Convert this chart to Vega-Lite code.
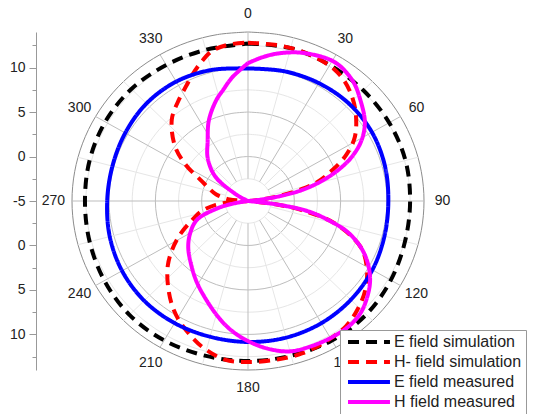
{
  "$schema": "https://vega.github.io/schema/vega-lite/v6.json",
  "width": 352,
  "height": 338,
  "autosize": "none",
  "padding": {"left": 72, "top": 32, "right": 113, "bottom": 44},
  "background": "white",
  "datasets": {
    "curves": [
      {"series": "E field simulation", "angle": 0, "r": 12.7},
      {"series": "E field simulation", "angle": 15, "r": 12.8},
      {"series": "E field simulation", "angle": 30, "r": 12.65},
      {"series": "E field simulation", "angle": 45, "r": 12.6},
      {"series": "E field simulation", "angle": 60, "r": 12.6},
      {"series": "E field simulation", "angle": 75, "r": 12.6},
      {"series": "E field simulation", "angle": 90, "r": 12.5},
      {"series": "E field simulation", "angle": 105, "r": 12.55},
      {"series": "E field simulation", "angle": 120, "r": 12.8},
      {"series": "E field simulation", "angle": 135, "r": 13.05},
      {"series": "E field simulation", "angle": 150, "r": 13.1},
      {"series": "E field simulation", "angle": 165, "r": 13.0},
      {"series": "E field simulation", "angle": 180, "r": 13.0},
      {"series": "E field simulation", "angle": 195, "r": 13.0},
      {"series": "E field simulation", "angle": 210, "r": 13.1},
      {"series": "E field simulation", "angle": 225, "r": 13.1},
      {"series": "E field simulation", "angle": 240, "r": 12.9},
      {"series": "E field simulation", "angle": 255, "r": 12.7},
      {"series": "E field simulation", "angle": 270, "r": 12.6},
      {"series": "E field simulation", "angle": 285, "r": 12.7},
      {"series": "E field simulation", "angle": 300, "r": 12.8},
      {"series": "E field simulation", "angle": 315, "r": 12.8},
      {"series": "E field simulation", "angle": 330, "r": 12.65},
      {"series": "E field simulation", "angle": 345, "r": 12.6},
      {"series": "E field simulation", "angle": 360, "r": 12.7},

      {"series": "H- field simulation", "angle": 0, "r": 12.8},
      {"series": "H- field simulation", "angle": 10, "r": 12.8},
      {"series": "H- field simulation", "angle": 17, "r": 12.8},
      {"series": "H- field simulation", "angle": 25, "r": 12.7},
      {"series": "H- field simulation", "angle": 32, "r": 12.5},
      {"series": "H- field simulation", "angle": 38, "r": 12.0},
      {"series": "H- field simulation", "angle": 44, "r": 11.2},
      {"series": "H- field simulation", "angle": 50, "r": 10.2},
      {"series": "H- field simulation", "angle": 58, "r": 8.6},
      {"series": "H- field simulation", "angle": 64, "r": 6.8},
      {"series": "H- field simulation", "angle": 69, "r": 4.8},
      {"series": "H- field simulation", "angle": 74, "r": 2.8},
      {"series": "H- field simulation", "angle": 77, "r": 1.0},
      {"series": "H- field simulation", "angle": 81, "r": -2.0},
      {"series": "H- field simulation", "angle": 86, "r": -4.5},
      {"series": "H- field simulation", "angle": 90, "r": -5},
      {"series": "H- field simulation", "angle": 94, "r": -4.5},
      {"series": "H- field simulation", "angle": 97, "r": -2.0},
      {"series": "H- field simulation", "angle": 100, "r": 0.9},
      {"series": "H- field simulation", "angle": 105, "r": 4.7},
      {"series": "H- field simulation", "angle": 113, "r": 8.2},
      {"series": "H- field simulation", "angle": 120, "r": 9.8},
      {"series": "H- field simulation", "angle": 128, "r": 11.1},
      {"series": "H- field simulation", "angle": 136, "r": 12.0},
      {"series": "H- field simulation", "angle": 143, "r": 12.6},
      {"series": "H- field simulation", "angle": 152, "r": 12.9},
      {"series": "H- field simulation", "angle": 161, "r": 13.1},
      {"series": "H- field simulation", "angle": 170, "r": 13.1},
      {"series": "H- field simulation", "angle": 180, "r": 13.1},
      {"series": "H- field simulation", "angle": 188, "r": 13.0},
      {"series": "H- field simulation", "angle": 197, "r": 12.1},
      {"series": "H- field simulation", "angle": 208, "r": 10.5},
      {"series": "H- field simulation", "angle": 215, "r": 9.3},
      {"series": "H- field simulation", "angle": 223, "r": 7.7},
      {"series": "H- field simulation", "angle": 230, "r": 6.3},
      {"series": "H- field simulation", "angle": 236, "r": 4.9},
      {"series": "H- field simulation", "angle": 243, "r": 3.2},
      {"series": "H- field simulation", "angle": 250, "r": 1.5},
      {"series": "H- field simulation", "angle": 257, "r": 0.2},
      {"series": "H- field simulation", "angle": 263, "r": -1.5},
      {"series": "H- field simulation", "angle": 267, "r": -3.5},
      {"series": "H- field simulation", "angle": 270, "r": -5},
      {"series": "H- field simulation", "angle": 275, "r": -3.0},
      {"series": "H- field simulation", "angle": 282, "r": -1.5},
      {"series": "H- field simulation", "angle": 289, "r": -0.5},
      {"series": "H- field simulation", "angle": 295, "r": 0.7},
      {"series": "H- field simulation", "angle": 301, "r": 2.8},
      {"series": "H- field simulation", "angle": 308, "r": 5.0},
      {"series": "H- field simulation", "angle": 318, "r": 7.3},
      {"series": "H- field simulation", "angle": 326, "r": 8.5},
      {"series": "H- field simulation", "angle": 333, "r": 9.6},
      {"series": "H- field simulation", "angle": 337, "r": 10.4},
      {"series": "H- field simulation", "angle": 342, "r": 11.4},
      {"series": "H- field simulation", "angle": 347, "r": 12.3},
      {"series": "H- field simulation", "angle": 353, "r": 12.7},
      {"series": "H- field simulation", "angle": 360, "r": 12.8},

      {"series": "E field measured", "angle": 0, "r": 9.9},
      {"series": "E field measured", "angle": 15, "r": 10.1},
      {"series": "E field measured", "angle": 30, "r": 10.3},
      {"series": "E field measured", "angle": 45, "r": 10.45},
      {"series": "E field measured", "angle": 60, "r": 10.45},
      {"series": "E field measured", "angle": 75, "r": 10.3},
      {"series": "E field measured", "angle": 90, "r": 10.15},
      {"series": "E field measured", "angle": 105, "r": 10.25},
      {"series": "E field measured", "angle": 120, "r": 10.5},
      {"series": "E field measured", "angle": 135, "r": 10.7},
      {"series": "E field measured", "angle": 150, "r": 10.85},
      {"series": "E field measured", "angle": 165, "r": 10.9},
      {"series": "E field measured", "angle": 180, "r": 10.85},
      {"series": "E field measured", "angle": 195, "r": 10.8},
      {"series": "E field measured", "angle": 210, "r": 10.85},
      {"series": "E field measured", "angle": 225, "r": 10.85},
      {"series": "E field measured", "angle": 240, "r": 10.7},
      {"series": "E field measured", "angle": 255, "r": 10.45},
      {"series": "E field measured", "angle": 270, "r": 10.2},
      {"series": "E field measured", "angle": 285, "r": 10.15},
      {"series": "E field measured", "angle": 300, "r": 10.3},
      {"series": "E field measured", "angle": 315, "r": 10.5},
      {"series": "E field measured", "angle": 330, "r": 10.5},
      {"series": "E field measured", "angle": 345, "r": 10.25},
      {"series": "E field measured", "angle": 360, "r": 9.9},

      {"series": "H field measured", "angle": 0, "r": 10.5},
      {"series": "H field measured", "angle": 6, "r": 11.3},
      {"series": "H field measured", "angle": 12, "r": 12.0},
      {"series": "H field measured", "angle": 20, "r": 12.7},
      {"series": "H field measured", "angle": 31, "r": 13.2},
      {"series": "H field measured", "angle": 40, "r": 12.6},
      {"series": "H field measured", "angle": 47, "r": 11.6},
      {"series": "H field measured", "angle": 55, "r": 10.4},
      {"series": "H field measured", "angle": 61, "r": 9.0},
      {"series": "H field measured", "angle": 66, "r": 7.3},
      {"series": "H field measured", "angle": 70, "r": 5.5},
      {"series": "H field measured", "angle": 74, "r": 3.4},
      {"series": "H field measured", "angle": 78, "r": 1.0},
      {"series": "H field measured", "angle": 81, "r": -1.5},
      {"series": "H field measured", "angle": 84, "r": -4.0},
      {"series": "H field measured", "angle": 86, "r": -5},
      {"series": "H field measured", "angle": 95, "r": -5},
      {"series": "H field measured", "angle": 97, "r": -2.0},
      {"series": "H field measured", "angle": 100, "r": 1.5},
      {"series": "H field measured", "angle": 104, "r": 4.0},
      {"series": "H field measured", "angle": 108, "r": 6.3},
      {"series": "H field measured", "angle": 113, "r": 8.2},
      {"series": "H field measured", "angle": 118, "r": 9.6},
      {"series": "H field measured", "angle": 124, "r": 10.9},
      {"series": "H field measured", "angle": 130, "r": 11.8},
      {"series": "H field measured", "angle": 136, "r": 12.5},
      {"series": "H field measured", "angle": 142, "r": 12.8},
      {"series": "H field measured", "angle": 149, "r": 12.8},
      {"series": "H field measured", "angle": 157, "r": 12.7},
      {"series": "H field measured", "angle": 165, "r": 12.5},
      {"series": "H field measured", "angle": 173, "r": 11.7},
      {"series": "H field measured", "angle": 181, "r": 10.6},
      {"series": "H field measured", "angle": 188, "r": 9.5},
      {"series": "H field measured", "angle": 194, "r": 8.4},
      {"series": "H field measured", "angle": 202, "r": 7.0},
      {"series": "H field measured", "angle": 211, "r": 5.7},
      {"series": "H field measured", "angle": 220, "r": 4.5},
      {"series": "H field measured", "angle": 231, "r": 3.3},
      {"series": "H field measured", "angle": 240, "r": 2.2},
      {"series": "H field measured", "angle": 249, "r": 0.9},
      {"series": "H field measured", "angle": 256, "r": -1.6},
      {"series": "H field measured", "angle": 260, "r": -3.5},
      {"series": "H field measured", "angle": 263, "r": -5},
      {"series": "H field measured", "angle": 295, "r": -5},
      {"series": "H field measured", "angle": 300, "r": -3.5},
      {"series": "H field measured", "angle": 308, "r": -0.5},
      {"series": "H field measured", "angle": 318, "r": 1.5},
      {"series": "H field measured", "angle": 327, "r": 3.0},
      {"series": "H field measured", "angle": 335, "r": 5.0},
      {"series": "H field measured", "angle": 343, "r": 6.8},
      {"series": "H field measured", "angle": 348, "r": 7.8},
      {"series": "H field measured", "angle": 353, "r": 9.0},
      {"series": "H field measured", "angle": 360, "r": 10.5}
    ],
    "rings": [
      {"ring": 2.5, "a": [0,10,20,30,40,50,60,70,80,90,100,110,120,130,140,150,160,170,180,190,200,210,220,230,240,250,260,270,280,290,300,310,320,330,340,350,360]},
      {"ring": 5, "a": [0,10,20,30,40,50,60,70,80,90,100,110,120,130,140,150,160,170,180,190,200,210,220,230,240,250,260,270,280,290,300,310,320,330,340,350,360]},
      {"ring": 7.5, "a": [0,10,20,30,40,50,60,70,80,90,100,110,120,130,140,150,160,170,180,190,200,210,220,230,240,250,260,270,280,290,300,310,320,330,340,350,360]},
      {"ring": 10, "a": [0,10,20,30,40,50,60,70,80,90,100,110,120,130,140,150,160,170,180,190,200,210,220,230,240,250,260,270,280,290,300,310,320,330,340,350,360]},
      {"ring": 12.5, "a": [0,10,20,30,40,50,60,70,80,90,100,110,120,130,140,150,160,170,180,190,200,210,220,230,240,250,260,270,280,290,300,310,320,330,340,350,360]},
      {"ring": 15, "a": [0,10,20,30,40,50,60,70,80,90,100,110,120,130,140,150,160,170,180,190,200,210,220,230,240,250,260,270,280,290,300,310,320,330,340,350,360]},
      {"ring": 17.5, "a": [0,10,20,30,40,50,60,70,80,90,100,110,120,130,140,150,160,170,180,190,200,210,220,230,240,250,260,270,280,290,300,310,320,330,340,350,360]},
      {"ring": 19, "a": [0,10,20,30,40,50,60,70,80,90,100,110,120,130,140,150,160,170,180,190,200,210,220,230,240,250,260,270,280,290,300,310,320,330,340,350,360]}
    ],
    "spokes": [
      {"angle": 0}, {"angle": 15}, {"angle": 30}, {"angle": 45}, {"angle": 60}, {"angle": 75},
      {"angle": 90}, {"angle": 105}, {"angle": 120}, {"angle": 135}, {"angle": 150}, {"angle": 165},
      {"angle": 180}, {"angle": 195}, {"angle": 210}, {"angle": 225}, {"angle": 240}, {"angle": 255},
      {"angle": 270}, {"angle": 285}, {"angle": 300}, {"angle": 315}, {"angle": 330}, {"angle": 345}
    ],
    "labels": [
      {"angle": 0, "label": "0"}, {"angle": 30, "label": "30"}, {"angle": 60, "label": "60"},
      {"angle": 90, "label": "90"}, {"angle": 120, "label": "120"}, {"angle": 150, "label": "150"},
      {"angle": 180, "label": "180"}, {"angle": 210, "label": "210"}, {"angle": 240, "label": "240"},
      {"angle": 270, "label": "270"}, {"angle": 300, "label": "300"}, {"angle": 330, "label": "330"}
    ]
  },
  "encoding": {
    "x": {"field": "x", "type": "quantitative", "scale": {"domain": [-19, 19], "nice": false, "zero": false}, "axis": null},
    "y": {
      "field": "y", "type": "quantitative",
      "scale": {"domain": [-19, 19], "nice": false, "zero": false},
      "axis": {
        "title": null,
        "offset": 36,
        "grid": false,
        "values": [-17.5, -15, -12.5, -10, -7.5, -5, -2.5, 0, 2.5, 5, 7.5, 10, 12.5, 15, 17.5],
        "labelExpr": "datum.value % 5 == 0 ? '' + (abs(datum.value) - 5) : ''",
        "domainColor": "#999999",
        "tickColor": "#999999",
        "tickSize": {"condition": {"test": "datum.value % 5 != 0", "value": 4}, "value": 7},
        "labelFont": "Liberation Sans",
        "labelFontSize": 14,
        "labelColor": "#222222",
        "labelPadding": 4
      }
    }
  },
  "layer": [
    {
      "data": {"name": "rings"},
      "transform": [
        {"flatten": ["a"]},
        {"calculate": "datum.ring * sin(datum.a * PI / 180)", "as": "x"},
        {"calculate": "datum.ring * cos(datum.a * PI / 180)", "as": "y"}
      ],
      "mark": {"type": "line", "interpolate": "catmull-rom", "strokeWidth": 1},
      "encoding": {
        "detail": {"field": "ring", "type": "nominal"},
        "order": {"field": "a", "type": "quantitative"},
        "stroke": {"condition": [
          {"test": "datum.ring == 19", "value": "#8c8c8c"},
          {"test": "datum.ring % 5 == 0", "value": "#bdbdbd"}
        ], "value": "#e6e6e6"}
      }
    },
    {
      "data": {"name": "spokes"},
      "transform": [
        {"calculate": "2.5 * sin(datum.angle * PI / 180)", "as": "x"},
        {"calculate": "2.5 * cos(datum.angle * PI / 180)", "as": "y"},
        {"calculate": "19 * sin(datum.angle * PI / 180)", "as": "x2"},
        {"calculate": "19 * cos(datum.angle * PI / 180)", "as": "y2"}
      ],
      "mark": {"type": "rule", "strokeWidth": 1},
      "encoding": {
        "x2": {"field": "x2"},
        "y2": {"field": "y2"},
        "stroke": {"condition": {"test": "datum.angle % 30 == 0", "value": "#bdbdbd"}, "value": "#e6e6e6"}
      }
    },
    {
      "data": {"name": "curves"},
      "transform": [
        {"filter": "datum.series == 'E field simulation'"},
        {"calculate": "(max(datum.r, -5) + 5) * sin(datum.angle * PI / 180)", "as": "x"},
        {"calculate": "(max(datum.r, -5) + 5) * cos(datum.angle * PI / 180)", "as": "y"}
      ],
      "mark": {"type": "line", "interpolate": "catmull-rom", "strokeWidth": 4, "strokeCap": "butt"},
      "encoding": {
        "order": {"field": "angle", "type": "quantitative"},
        "color": {"field": "series", "type": "nominal", "title": null,
          "scale": {"domain": ["E field simulation", "H- field simulation", "E field measured", "H field measured"], "range": ["#000000", "#ff0000", "#0000ff", "#ff00ff"]}},
        "strokeDash": {"field": "series", "type": "nominal", "title": null,
          "scale": {"domain": ["E field simulation", "H- field simulation", "E field measured", "H field measured"], "range": [[11, 7], [11, 7], [1, 0], [1, 0]]}}
      }
    },
    {
      "data": {"name": "curves"},
      "transform": [
        {"filter": "datum.series == 'H- field simulation'"},
        {"calculate": "(max(datum.r, -5) + 5) * sin(datum.angle * PI / 180)", "as": "x"},
        {"calculate": "(max(datum.r, -5) + 5) * cos(datum.angle * PI / 180)", "as": "y"}
      ],
      "mark": {"type": "line", "interpolate": "catmull-rom", "strokeWidth": 4, "strokeCap": "butt"},
      "encoding": {
        "order": {"field": "angle", "type": "quantitative"},
        "color": {"field": "series", "type": "nominal", "title": null},
        "strokeDash": {"field": "series", "type": "nominal", "title": null}
      }
    },
    {
      "data": {"name": "curves"},
      "transform": [
        {"filter": "datum.series == 'E field measured'"},
        {"calculate": "(max(datum.r, -5) + 5) * sin(datum.angle * PI / 180)", "as": "x"},
        {"calculate": "(max(datum.r, -5) + 5) * cos(datum.angle * PI / 180)", "as": "y"}
      ],
      "mark": {"type": "line", "interpolate": "catmull-rom", "strokeWidth": 4},
      "encoding": {
        "order": {"field": "angle", "type": "quantitative"},
        "color": {"field": "series", "type": "nominal", "title": null},
        "strokeDash": {"field": "series", "type": "nominal", "title": null}
      }
    },
    {
      "data": {"name": "curves"},
      "transform": [
        {"filter": "datum.series == 'H field measured'"},
        {"calculate": "(max(datum.r, -5) + 5) * sin(datum.angle * PI / 180)", "as": "x"},
        {"calculate": "(max(datum.r, -5) + 5) * cos(datum.angle * PI / 180)", "as": "y"}
      ],
      "mark": {"type": "line", "interpolate": "catmull-rom", "strokeWidth": 4},
      "encoding": {
        "order": {"field": "angle", "type": "quantitative"},
        "color": {"field": "series", "type": "nominal", "title": null},
        "strokeDash": {"field": "series", "type": "nominal", "title": null}
      }
    },
    {
      "data": {"name": "labels"},
      "transform": [
        {"calculate": "21 * sin(datum.angle * PI / 180)", "as": "x"},
        {"calculate": "21 * cos(datum.angle * PI / 180)", "as": "y"}
      ],
      "mark": {"type": "text", "font": "Liberation Sans", "fontSize": 14, "color": "#222222", "align": "center", "baseline": "middle"},
      "encoding": {
        "text": {"field": "label", "type": "nominal"}
      }
    }
  ],
  "config": {
    "view": {"stroke": null},
    "font": "Liberation Sans",
    "legend": {
      "orient": "none",
      "legendX": 268,
      "legendY": 298,
      "symbolType": "M-4,0H4",
      "symbolSize": 110,
      "symbolStrokeWidth": 4,
      "symbolOffset": 17,
      "labelOffset": 17,
      "labelFont": "Liberation Sans",
      "labelFontSize": 16,
      "labelColor": "#222222",
      "labelLimit": 300,
      "fillColor": "white",
      "strokeColor": "#999999",
      "padding": 4,
      "rowPadding": 4
    }
  }
}
